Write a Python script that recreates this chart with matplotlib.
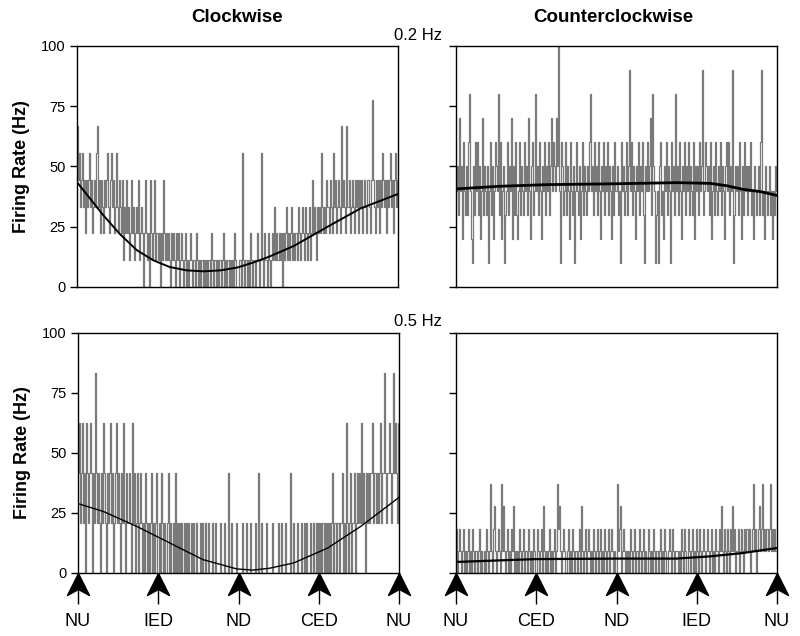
import numpy as np
import matplotlib
matplotlib.use('Agg')
import matplotlib.pyplot as plt
from matplotlib.path import Path

plt.rcParams['font.family'] = ['Liberation Sans', 'DejaVu Sans']

# spike counts per bin (firing rate = count * unit)
cw_02_counts = [6, 4, 5, 3, 4, 5, 3, 4, 2, 4,
                3, 4, 5, 3, 4, 2, 3, 4, 3, 5,
                6, 3, 4, 2, 4, 3, 2, 4, 3, 4,
                5, 3, 2, 4, 5, 3, 4, 2, 3, 5,
                3, 2, 4, 3, 2, 4, 1, 3, 2, 4,
                2, 3, 1, 2, 4, 2, 3, 1, 2, 3,
                2, 4, 1, 2, 3, 2, 0, 2, 4, 2,
                1, 2, 0, 4, 2, 1, 2, 4, 1, 2,
                2, 1, 2, 0, 2, 1, 4, 2, 1, 2,
                1, 2, 1, 0, 2, 1, 2, 1, 0, 2,
                1, 2, 0, 1, 2, 1, 0, 1, 2, 0,
                1, 0, 1, 2, 1, 0, 1, 1, 0, 2,
                1, 0, 1, 0, 1, 1, 0, 1, 0, 1,
                0, 1, 1, 0, 2, 1, 0, 1, 1, 0,
                1, 0, 1, 1, 0, 1, 2, 0, 1, 0,
                1, 1, 0, 1, 0, 1, 0, 2, 1, 0,
                0, 1, 1, 0, 5, 1, 0, 1, 1, 0,
                1, 0, 2, 1, 0, 1, 1, 0, 1, 2,
                1, 0, 1, 5, 1, 0, 2, 1, 1, 0,
                2, 1, 0, 1, 2, 1, 3, 1, 2, 1,
                1, 2, 1, 2, 0, 2, 1, 2, 3, 1,
                2, 1, 2, 3, 1, 2, 1, 2, 2, 1,
                3, 2, 1, 2, 3, 2, 1, 3, 2, 1,
                2, 3, 1, 2, 4, 2, 3, 2, 1, 3,
                2, 3, 2, 5, 3, 2, 3, 2, 4, 3,
                3, 2, 4, 3, 2, 5, 3, 4, 2, 3,
                4, 3, 2, 6, 3, 4, 3, 2, 6, 3,
                3, 4, 2, 3, 4, 3, 2, 4, 3, 4,
                2, 4, 3, 4, 2, 3, 4, 3, 2, 4,
                4, 3, 2, 4, 7, 4, 3, 2, 4, 3,
                4, 2, 4, 3, 5, 4, 3, 4, 2, 4,
                3, 4, 5, 3, 4, 2, 4, 5, 3, 4]
ccw_02_counts = [4, 5, 3, 7, 4, 5, 2, 6, 4, 3,
                 5, 3, 6, 8, 4, 2, 1, 5, 3, 6,
                 4, 6, 3, 5, 2, 4, 7, 3, 5, 4,
                 3, 5, 1, 4, 6, 3, 5, 2, 4, 6,
                 5, 4, 8, 3, 6, 2, 4, 5, 1, 3,
                 4, 6, 3, 5, 4, 7, 2, 5, 3, 6,
                 3, 2, 4, 6, 3, 5, 4, 3, 6, 4,
                 5, 3, 7, 4, 2, 5, 6, 3, 4, 8,
                 4, 5, 3, 6, 4, 2, 5, 4, 6, 3,
                 5, 4, 6, 3, 5, 7, 4, 6, 5, 4,
                 7, 5, 10, 4, 1, 6, 5, 3, 4, 6,
                 3, 5, 4, 2, 6, 4, 3, 5, 1, 4,
                 6, 4, 3, 5, 2, 4, 6, 3, 5, 4,
                 3, 5, 4, 6, 8, 4, 5, 3, 6, 4,
                 5, 3, 6, 4, 2, 5, 4, 6, 3, 5,
                 4, 6, 3, 5, 4, 2, 5, 3, 6, 4,
                 5, 3, 4, 1, 6, 4, 5, 3, 4, 6,
                 3, 5, 9, 4, 6, 3, 5, 4, 2, 5,
                 4, 6, 3, 5, 4, 6, 3, 1, 5, 4,
                 6, 4, 5, 7, 3, 8, 5, 4, 1, 3,
                 4, 1, 5, 6, 3, 4, 2, 5, 4, 6,
                 3, 5, 4, 1, 6, 4, 5, 3, 8, 4,
                 5, 3, 6, 4, 2, 5, 4, 6, 3, 5,
                 4, 6, 3, 5, 4, 3, 6, 2, 5, 4,
                 5, 3, 6, 4, 5, 9, 3, 4, 6, 5,
                 4, 5, 3, 6, 2, 4, 5, 3, 6, 4,
                 3, 5, 4, 6, 3, 5, 4, 2, 5, 6,
                 4, 6, 3, 5, 4, 9, 1, 3, 5, 4,
                 5, 3, 6, 4, 2, 5, 3, 6, 4, 5,
                 3, 5, 4, 6, 3, 4, 2, 5, 4, 3,
                 4, 5, 3, 6, 9, 3, 4, 2, 5, 4,
                 3, 4, 5, 3, 4, 2, 4, 3, 5, 4]
cw_05_counts = [2, 3, 1, 2, 3, 1, 2, 0, 3, 2,
                1, 2, 3, 2, 0, 2, 1, 4, 2, 1,
                2, 1, 0, 2, 1, 3, 2, 1, 0, 2,
                1, 2, 3, 1, 2, 0, 1, 2, 3, 1,
                2, 1, 0, 2, 1, 3, 1, 0, 2, 1,
                1, 2, 1, 0, 3, 1, 2, 0, 1, 2,
                0, 1, 2, 1, 0, 1, 0, 2, 1, 0,
                1, 0, 1, 2, 0, 1, 0, 1, 2, 0,
                0, 1, 0, 2, 1, 0, 1, 0, 0, 1,
                2, 0, 1, 0, 0, 1, 0, 2, 0, 1,
                0, 1, 0, 1, 0, 0, 1, 0, 1, 0,
                1, 0, 0, 1, 0, 1, 0, 0, 1, 0,
                0, 0, 1, 0, 1, 0, 0, 1, 0, 0,
                1, 0, 0, 0, 1, 0, 0, 1, 0, 0,
                0, 0, 1, 0, 0, 0, 1, 0, 0, 0,
                2, 0, 0, 1, 0, 0, 0, 0, 1, 0,
                0, 0, 0, 1, 0, 0, 0, 1, 0, 0,
                0, 1, 0, 0, 0, 0, 1, 0, 0, 2,
                0, 0, 1, 0, 0, 0, 0, 1, 0, 0,
                0, 0, 0, 1, 0, 0, 0, 0, 0, 1,
                0, 0, 1, 0, 0, 0, 1, 0, 0, 0,
                0, 2, 0, 0, 1, 0, 0, 0, 1, 0,
                0, 0, 1, 0, 0, 1, 0, 1, 0, 0,
                0, 1, 0, 0, 1, 0, 0, 1, 0, 1,
                0, 1, 0, 1, 1, 0, 1, 0, 1, 0,
                1, 0, 1, 2, 0, 1, 1, 0, 1, 1,
                0, 1, 1, 2, 0, 1, 0, 3, 1, 0,
                1, 2, 0, 1, 1, 2, 0, 1, 2, 1,
                2, 1, 3, 1, 2, 1, 0, 2, 1, 2,
                1, 2, 2, 3, 1, 2, 2, 1, 2, 1,
                2, 3, 1, 2, 2, 4, 2, 1, 2, 2,
                3, 2, 1, 2, 4, 2, 3, 2, 1, 3]
ccw_05_counts = [2, 0, 1, 2, 1, 0, 1, 2, 0, 1,
                 0, 1, 2, 0, 1, 0, 2, 1, 0, 1,
                 1, 0, 1, 2, 0, 1, 0, 0, 1, 0,
                 2, 1, 0, 1, 4, 1, 0, 2, 3, 1,
                 0, 1, 2, 1, 0, 4, 1, 3, 1, 0,
                 1, 2, 0, 1, 0, 2, 1, 3, 0, 1,
                 0, 1, 0, 2, 1, 0, 1, 2, 0, 1,
                 1, 0, 2, 1, 0, 1, 0, 2, 1, 0,
                 0, 2, 1, 0, 1, 2, 0, 3, 1, 0,
                 1, 0, 1, 2, 0, 1, 0, 1, 2, 0,
                 1, 4, 2, 3, 1, 0, 1, 2, 1, 0,
                 0, 1, 2, 0, 1, 0, 2, 1, 0, 1,
                 1, 0, 1, 2, 0, 3, 1, 0, 1, 2,
                 0, 1, 2, 1, 0, 1, 0, 2, 1, 0,
                 1, 2, 0, 1, 2, 0, 1, 0, 2, 1,
                 0, 1, 2, 0, 1, 2, 1, 0, 1, 0,
                 4, 1, 2, 3, 0, 1, 2, 1, 0, 1,
                 0, 1, 0, 2, 1, 0, 1, 2, 0, 1,
                 1, 0, 2, 1, 0, 1, 2, 0, 1, 0,
                 0, 2, 1, 0, 1, 0, 2, 1, 0, 1,
                 1, 0, 1, 2, 0, 1, 0, 2, 1, 0,
                 0, 1, 2, 1, 0, 2, 1, 0, 1, 1,
                 1, 0, 1, 0, 2, 1, 0, 2, 1, 0,
                 0, 2, 1, 0, 1, 2, 0, 1, 0, 2,
                 1, 0, 2, 1, 0, 1, 2, 1, 0, 1,
                 2, 1, 0, 1, 2, 0, 1, 0, 2, 1,
                 1, 0, 2, 1, 3, 1, 0, 2, 1, 0,
                 2, 1, 0, 2, 1, 3, 1, 2, 0, 1,
                 1, 2, 0, 1, 2, 1, 0, 2, 1, 2,
                 2, 1, 2, 0, 1, 2, 4, 1, 2, 0,
                 1, 2, 3, 1, 2, 4, 1, 2, 1, 2,
                 2, 1, 2, 4, 1, 2, 1, 2, 1, 1]

# Hz per spike in one bin
units = [11.11, 10.0, 20.83, 9.26]

# fitted curves (position in deg, rate in Hz)
cw_02_fit_x = [0, 29, 48, 67, 86, 104, 123, 142, 161, 180, 198, 215, 243, 281, 318, 360]
cw_02_fit_y = [43.5, 30, 22, 15.3, 11, 8.3, 6.9, 6.5, 6.9, 8.1, 10.2, 12.5, 17, 25, 32.6, 38.6]
ccw_02_fit_x = [0, 49, 105, 173, 248, 285, 304, 322, 341, 360]
ccw_02_fit_y = [40.7, 41.8, 42.5, 42.8, 43.3, 43, 42, 40.5, 39.6, 38]
cw_05_fit_x = [0, 28, 66, 103, 140, 178, 196, 215, 242, 280, 317, 360]
cw_05_fit_y = [28.9, 25.7, 19.4, 12.5, 5.6, 1.7, 1.2, 2, 4.2, 10.4, 19.4, 31.5]
ccw_05_fit_x = [0, 90, 183, 247, 284, 321, 360]
ccw_05_fit_y = [4.6, 5.8, 6, 6, 6.9, 8.3, 10.4]

pos_ticks = [0, 90, 180, 270, 360]
cw_labels = ['NU', 'IED', 'ND', 'CED', 'NU']
ccw_labels = ['NU', 'CED', 'ND', 'IED', 'NU']
y_ticks = [0, 25, 50, 75, 100]

fig = plt.figure(figsize=(8, 6.36), dpi=100)
W, H = 800, 636

def make_ax(x0, y_top, y_bot, x1):
    return fig.add_axes([x0 / W, 1 - y_bot / H, (x1 - x0) / W, (y_bot - y_top) / H])

ax_tl = make_ax(77, 46, 287, 398)
ax_tr = make_ax(456, 46, 287, 777)
ax_bl = make_ax(78, 333, 573, 399)
ax_br = make_ax(456, 333, 573, 777)

arrow = Path([(0, 0), (11, -22), (0, -16), (-11, -22), (0, 0)],
             [Path.MOVETO, Path.LINETO, Path.LINETO, Path.LINETO, Path.CLOSEPOLY])

panels = [
    (ax_tl, cw_02_counts, units[0], cw_02_fit_x, cw_02_fit_y, 1.4, None),
    (ax_tr, ccw_02_counts, units[1], ccw_02_fit_x, ccw_02_fit_y, 2.0, None),
    (ax_bl, cw_05_counts, units[2], cw_05_fit_x, cw_05_fit_y, 1.0, cw_labels),
    (ax_br, ccw_05_counts, units[3], ccw_05_fit_x, ccw_05_fit_y, 1.6, ccw_labels),
]

for ax, counts, unit, fx, fy, flw, labels in panels:
    rate = np.array(counts) * unit
    x = np.linspace(0, 360, len(rate))
    ax.plot(x, rate, drawstyle='steps-mid', color='#7a7a7a', lw=0.9)
    ax.plot(fx, fy, color='black', lw=flw)
    ax.set_xlim(0, 360)
    ax.set_ylim(0, 100)
    ax.set_yticks(y_ticks)
    ax.tick_params(axis='y', direction='out', length=5, width=1, labelsize=10.5, pad=3)
    for s in ax.spines.values():
        s.set_linewidth(1)
    if labels is None:
        ax.set_xticks([])
    else:
        ax.set_xticks(pos_ticks)
        ax.set_xticklabels(labels, fontsize=13)
        ax.tick_params(axis='x', length=0, pad=29)
        tr = ax.get_xaxis_transform()
        ax.vlines(pos_ticks, -0.13, 0, transform=tr, color='black', lw=1, clip_on=False)
        ax.plot(pos_ticks, [0] * len(pos_ticks), transform=tr, linestyle='none',
                marker=arrow, markersize=31.7, color='black', clip_on=False)

for ax in (ax_tr, ax_br):
    ax.set_yticklabels([])

for ax in (ax_tl, ax_bl):
    ax.set_ylabel('Firing Rate (Hz)', fontsize=13, fontweight='bold', labelpad=8)

fig.text(237 / W, 1 - 18 / H, 'Clockwise', fontsize=13.5, fontweight='bold', ha='center', va='center')
fig.text(613 / W, 1 - 18 / H, 'Counterclockwise', fontsize=13.5, fontweight='bold', ha='center', va='center')
fig.text(418 / W, 1 - 36 / H, '0.2 Hz', fontsize=12, ha='center', va='center')
fig.text(418 / W, 1 - 322 / H, '0.5 Hz', fontsize=12, ha='center', va='center')

fig.savefig('out.png', dpi=100)
